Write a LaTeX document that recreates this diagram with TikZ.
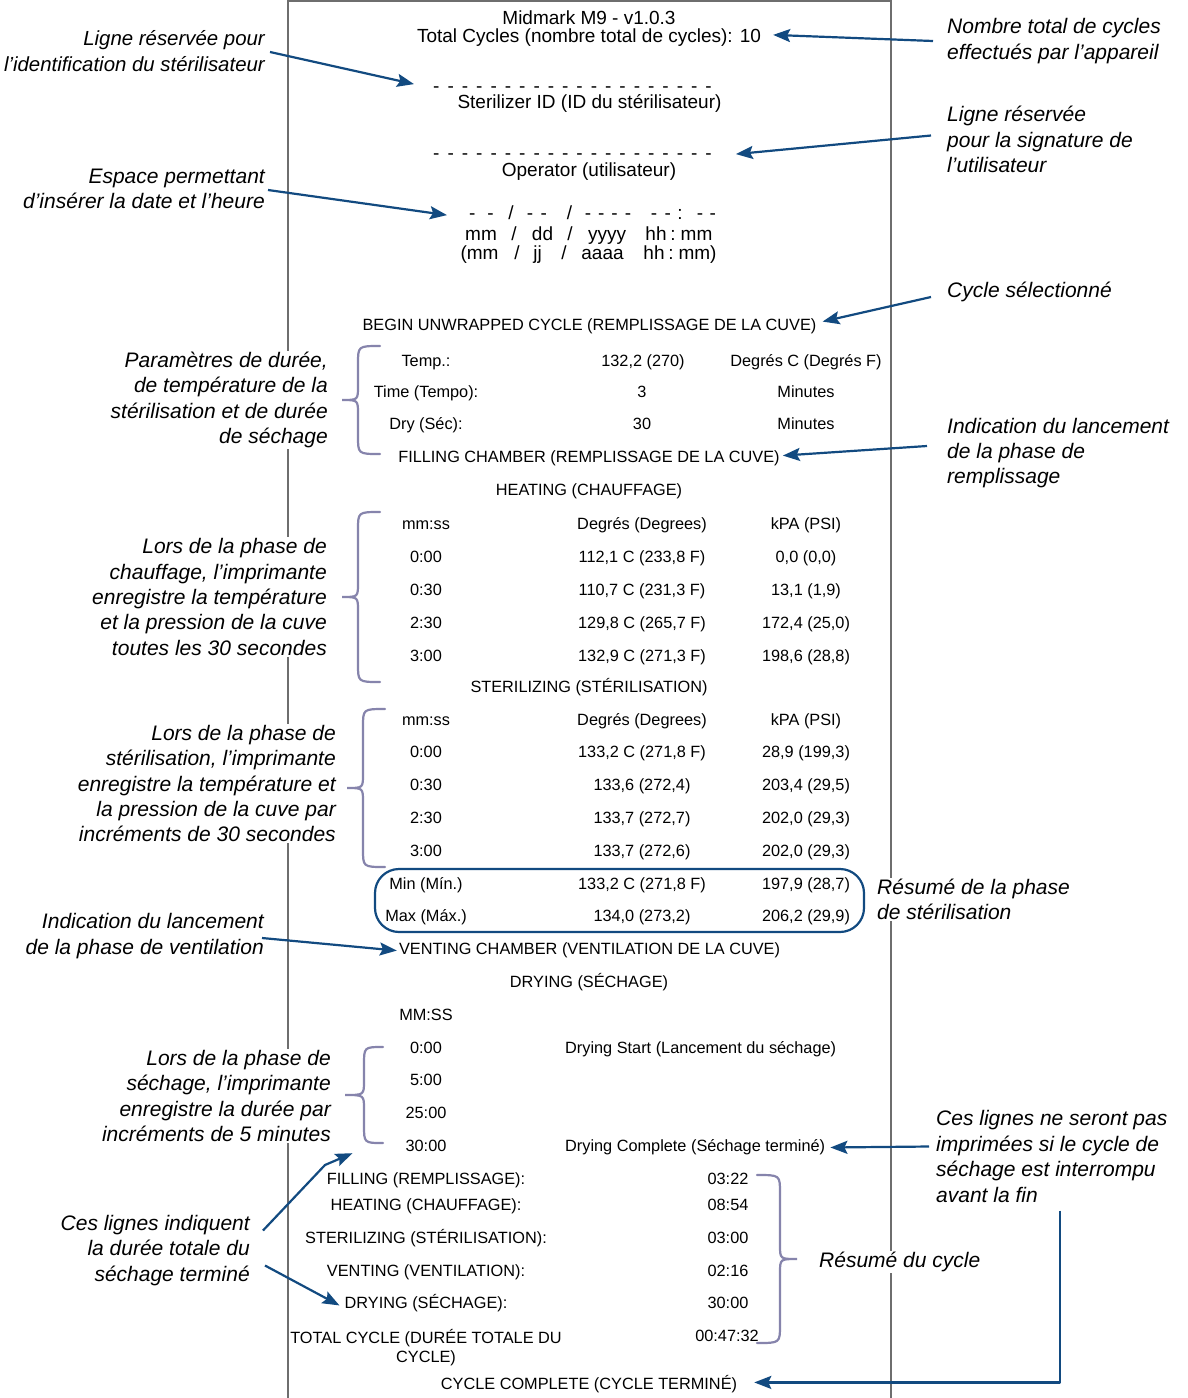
\documentclass[tikz,border=0pt]{standalone}
\usepackage{fontspec}
\setmainfont{Liberation Sans}
\usetikzlibrary{arrows.meta}
\definecolor{arrblue}{RGB}{18,74,128}
\definecolor{brcol}{RGB}{134,132,172}
\definecolor{papergray}{RGB}{110,110,110}
\newcommand\mydg{\hspace{8pt}}
\newcommand\mydashes{-\mydg-\mydg-\mydg-\mydg-\mydg-\mydg-\mydg-\mydg-\mydg-\mydg-\mydg-\mydg-\mydg-\mydg-\mydg-\mydg-\mydg-\mydg-\mydg-}
\newcommand\mybrace[5]{\draw[brc] (#1,#4) .. controls (#2,#4) .. (#2,{#4+18}) -- (#2,{(#4+#5)/2-14}) .. controls (#2,{(#4+#5)/2}) .. (#3,{(#4+#5)/2}) .. controls (#2,{(#4+#5)/2}) .. (#2,{(#4+#5)/2+14}) -- (#2,{#5-18}) .. controls (#2,#5) .. (#1,#5);}
\begin{document}
\begin{tikzpicture}[x=1pt,y=-1pt,
  hd/.style={font=\fontsize{19}{21}\selectfont, inner sep=0pt, anchor=base, yshift=-6.8pt},
  hb/.style={font=\fontsize{19}{21}\selectfont, inner sep=0pt, anchor=base},
  tb/.style={font=\fontsize{16.3}{19}\selectfont, inner sep=0pt, anchor=base, yshift=-5.8pt},
  tb0/.style={font=\fontsize{16.3}{19}\selectfont, inner sep=0pt},
  ann/.style={font=\fontsize{21}{25.4}\selectfont\itshape, fill=white, inner sep=1pt},
  annl/.style={ann, anchor=east, align=right},
  annr/.style={ann, anchor=west, align=left},
  arr/.style={draw=arrblue, line width=2.2pt, line join=round, -{Stealth[length=17pt,width=13pt,inset=3pt]}},
  brc/.style={draw=brcol, line width=2.2pt, line cap=round},
  paper/.style={draw=papergray, line width=1.2pt},
  sumbox/.style={draw=arrblue, line width=2.2pt, rounded corners=24pt}]
\useasboundingbox (0,0) rectangle (1187,1398);
\fill[white] (0,0) rectangle (1187,1398);
% paper strip
\draw[paper] (288,1398) -- (288,1) -- (891,1) -- (891,1398);
% header
\node[hd] (mid) at (589,18) {Midmark M9 - v1.0.3};
\node[hd] (tot) at (589,36) {Total Cycles (nombre total de cycles): 10};
\node[hb] (d1) at (572.5,92) {\mydashes};
\node[hd] (sid) at (589.5,102) {Sterilizer ID (ID du stérilisateur)};
\node[hb] (d2) at (572.5,159) {\mydashes};
\node[hd] (op) at (589,170) {Operator (utilisateur)};
% date rows
\node[hb] (da1) at (481.5,219) {-\hspace{12pt}-};
\node[hb] (da2) at (511,219) {/};
\node[hb] (da3) at (537,219) {-\hspace{7.4pt}-};
\node[hb] (da4) at (569.5,219) {/};
\node[hb] (da5) at (608,219) {-\hspace{7pt}-\hspace{7pt}-\hspace{7pt}-};
\node[hb] (da6) at (661,219) {-\hspace{7.4pt}-};
\node[hb] (da7) at (680,219) {:};
\node[hb] (da8) at (706.5,219) {-\hspace{6.4pt}-};
\node[hb] (db1) at (481,240) {mm};
\node[hb] (db2) at (514,240) {/};
\node[hb] (db3) at (542.5,240) {dd};
\node[hb] (db4) at (570,240) {/};
\node[hb] (db5) at (607,240) {yyyy};
\node[hb] (db6) at (656,240) {hh};
\node[hb] (db7) at (673,240) {:};
\node[hb] (db8) at (696.5,240) {mm};
\node[hb] (dc1) at (479.5,259) {(mm};
\node[hb] (dc2) at (517,259) {/};
\node[hb] (dc3) at (537.5,259) {jj};
\node[hb] (dc4) at (564,259) {/};
\node[hb] (dc5) at (602.5,259) {aaaa};
\node[hb] (dc6) at (654,259) {hh};
\node[hb] (dc7) at (671,259) {:};
\node[hb] (dc8) at (697.5,259) {mm)};
% cycle parameters
\node[tb] (beg) at (589.5,325) {BEGIN UNWRAPPED CYCLE (REMPLISSAGE DE LA CUVE)};
\node[tb] (p1a) at (426,361) {Temp.:};
\node[tb] (p1b) at (643,361) {132,2 (270)};
\node[tb] (p1c) at (806,361) {Degrés C (Degrés F)};
\node[tb] (p2a) at (426,392) {Time (Tempo):};
\node[tb] (p2b) at (642,392) {3};
\node[tb] (p2c) at (806,392) {Minutes};
\node[tb] (p3a) at (426,424) {Dry (Séc):};
\node[tb] (p3b) at (642,424) {30};
\node[tb] (p3c) at (806,424) {Minutes};
\node[tb] (fillc) at (589,457) {FILLING CHAMBER (REMPLISSAGE DE LA CUVE)};
\node[tb] (heat) at (589,490) {HEATING (CHAUFFAGE)};
% heating table
\node[tb] (h0a) at (426,524) {mm:ss};
\node[tb] (h0b) at (642,524) {Degrés (Degrees)};
\node[tb] (h0c) at (806,524) {kPA (PSI)};
\node[tb] (h1a) at (426,557) {0:00};
\node[tb] (h1b) at (642,557) {112,1 C (233,8 F)};
\node[tb] (h1c) at (806,557) {0,0 (0,0)};
\node[tb] (h2a) at (426,590) {0:30};
\node[tb] (h2b) at (642,590) {110,7 C (231,3 F)};
\node[tb] (h2c) at (806,590) {13,1 (1,9)};
\node[tb] (h3a) at (426,623) {2:30};
\node[tb] (h3b) at (642,623) {129,8 C (265,7 F)};
\node[tb] (h3c) at (806,623) {172,4 (25,0)};
\node[tb] (h4a) at (426,656) {3:00};
\node[tb] (h4b) at (642,656) {132,9 C (271,3 F)};
\node[tb] (h4c) at (806,656) {198,6 (28,8)};
\node[tb] (ster) at (589,687) {STERILIZING (STÉRILISATION)};
% sterilizing table
\node[tb] (s0a) at (426,720) {mm:ss};
\node[tb] (s0b) at (642,720) {Degrés (Degrees)};
\node[tb] (s0c) at (806,720) {kPA (PSI)};
\node[tb] (s1a) at (426,752) {0:00};
\node[tb] (s1b) at (642,752) {133,2 C (271,8 F)};
\node[tb] (s1c) at (806,752) {28,9 (199,3)};
\node[tb] (s2a) at (426,785) {0:30};
\node[tb] (s2b) at (642,785) {133,6 (272,4)};
\node[tb] (s2c) at (806,785) {203,4 (29,5)};
\node[tb] (s3a) at (426,818) {2:30};
\node[tb] (s3b) at (642,818) {133,7 (272,7)};
\node[tb] (s3c) at (806,818) {202,0 (29,3)};
\node[tb] (s4a) at (426,851) {3:00};
\node[tb] (s4b) at (642,851) {133,7 (272,6)};
\node[tb] (s4c) at (806,851) {202,0 (29,3)};
\node[tb] (mna) at (426,884) {Min (Mín.)};
\node[tb] (mnb) at (642,884) {133,2 C (271,8 F)};
\node[tb] (mnc) at (806,884) {197,9 (28,7)};
\node[tb] (mxa) at (426,916) {Max (Máx.)};
\node[tb] (mxb) at (642,916) {134,0 (273,2)};
\node[tb] (mxc) at (806,916) {206,2 (29,9)};
\draw[sumbox] (375,869) rectangle (864,932);
\node[tb] (vent) at (589.5,949) {VENTING CHAMBER (VENTILATION DE LA CUVE)};
\node[tb] (dry) at (589,982) {DRYING (SÉCHAGE)};
% drying table
\node[tb] (dmm) at (426,1015) {MM:SS};
\node[tb] (dr1) at (426,1048) {0:00};
\node[tb, anchor=base west] (dstart) at (565,1048) {Drying Start (Lancement du séchage)};
\node[tb] (dr2) at (426,1080) {5:00};
\node[tb] (dr3) at (426,1113) {25:00};
\node[tb] (dr4) at (426,1146) {30:00};
\node[tb, anchor=base west] (dcomp) at (565,1146) {Drying Complete (Séchage terminé)};
% summary
\node[tb] (u1) at (426,1179) {FILLING (REMPLISSAGE):};
\node[tb] (v1) at (728,1179) {03:22};
\node[tb] (u2) at (426,1205) {HEATING (CHAUFFAGE):};
\node[tb] (v2) at (728,1205) {08:54};
\node[tb] (u3) at (426,1238) {STERILIZING (STÉRILISATION):};
\node[tb] (v3) at (728,1238) {03:00};
\node[tb] (u4) at (426,1271) {VENTING (VENTILATION):};
\node[tb] (v4) at (728,1271) {02:16};
\node[tb] (u5) at (426,1303) {DRYING (SÉCHAGE):};
\node[tb] (v5) at (728,1303) {30:00};
\node[tb0, anchor=north, align=center] (u6) at (426,1329) {TOTAL CYCLE (DURÉE TOTALE DU\\CYCLE)};
\node[tb] (v6) at (727,1336) {00:47:32};
\node[tb] (cc) at (589,1384) {CYCLE COMPLETE (CYCLE TERMINÉ)};
% braces
\mybrace{380}{358}{342}{346}{454}
\mybrace{380}{358}{342}{512}{682}
\mybrace{385}{363}{347}{709}{867}
\mybrace{383}{364}{345}{1047}{1143}
\mybrace{757}{780}{797}{1175}{1343}
% annotations left
\node[annl, font=\fontsize{20.4}{25.4}\selectfont\itshape] (L1) at (266,51) {Ligne réservée pour\\l’identification du stérilisateur};
\node[annl] (L2) at (266,189) {Espace permettant\\d’insérer la date et l’heure};
\node[annl] (L3) at (329,400) {Paramètres de durée,\\de température de la\\stérilisation et de durée\\de séchage};
\node[annl] (L4) at (328,597) {Lors de la phase de\\chauffage, l’imprimante\\enregistre la température\\et la pression de la cuve\\toutes les 30 secondes};
\node[annl] (L5) at (337,783.5) {Lors de la phase de\\stérilisation, l’imprimante\\enregistre la température et\\la pression de la cuve par\\incréments de 30 secondes};
\node[annl] (L6) at (265,936) {Indication du lancement\\de la phase de ventilation};
\node[annl] (L7) at (332,1096) {Lors de la phase de\\séchage, l’imprimante\\enregistre la durée par\\incréments de 5 minutes};
\node[annl] (L8) at (251,1250.5) {Ces lignes indiquent\\la durée totale du\\séchage terminé};
% annotations right
\node[annr] (R1) at (946,41) {Nombre total de cycles\\effectués par l’appareil};
\node[annr] (R2) at (946,139.5) {Ligne réservée\\pour la signature de\\l’utilisateur};
\node[annr] (R3) at (946,292) {Cycle sélectionné};
\node[annr] (R4) at (946,453) {Indication du lancement\\de la phase de\\remplissage};
\node[annr] (R5) at (876,899.5) {Résumé de la phase\\de stérilisation};
\node[annr] (R6) at (935,1156.5) {Ces lignes ne seront pas\\imprimées si le cycle de\\séchage est interrompu\\avant la fin};
\node[annr] (R7) at (818,1262) {Résumé du cycle};
% arrows
\draw[arr] ([xshift=-13pt]R1.west) -- ([xshift=12pt,yshift=3pt]tot.east);
\draw[arr] ([xshift=4pt,yshift=-1pt]L1.east) -- ([xshift=-19pt,yshift=5pt]d1.west);
\draw[arr] ([xshift=-15pt,yshift=4pt]R2.west) -- ([xshift=24pt,yshift=2pt]d2.east);
\draw[arr] ([xshift=2pt,yshift=-1pt]L2.east) -- ([xshift=-22pt,yshift=1pt]da1.west);
\draw[arr] ([xshift=-15pt,yshift=-5pt]R3.west) -- ([xshift=6pt,yshift=5pt]beg.east);
\draw[arr] ([xshift=-19pt,yshift=7pt]R4.west) -- ([xshift=3pt,yshift=3pt]fillc.east);
\draw[arr] ([xshift=-3pt,yshift=-2pt]L6.east) -- ([xshift=-2pt]vent.west);
\coordinate (bend1) at (325,1165);
\draw[arr] ([xshift=12pt,yshift=20pt]L8.east) -- (bend1) -- ([xshift=-53pt,yshift=-7pt]dr4.west);
\draw[arr] ([xshift=14pt,yshift=-15pt]L8.east) -- ([xshift=-5pt,yshift=-2pt]u5.west);
\draw[arr] ([xshift=-6pt,yshift=10pt]R6.west) -- ([xshift=5pt]dcomp.east);
\draw[arr] ([xshift=125pt,yshift=-54pt]R6.west) |- ([xshift=17pt,yshift=2pt]cc.east);
\end{tikzpicture}
\end{document}
